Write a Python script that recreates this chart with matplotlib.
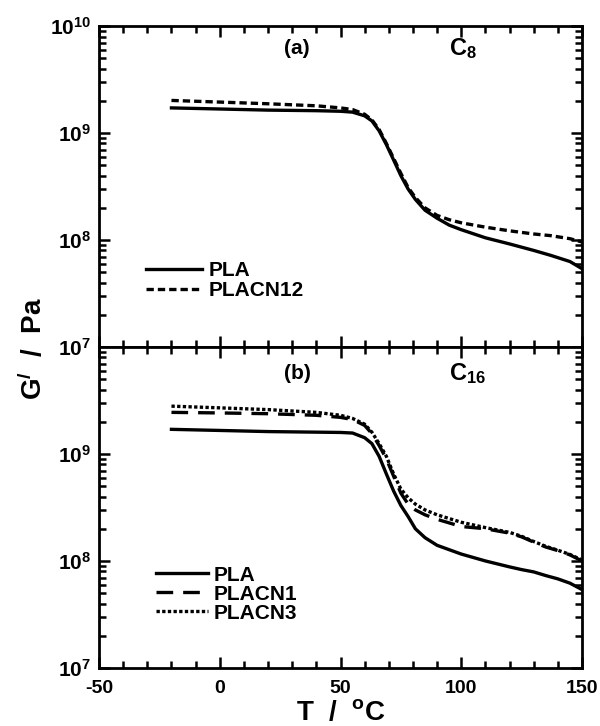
import matplotlib
matplotlib.use('Agg')
import math
import matplotlib.pyplot as plt
from matplotlib.ticker import LogLocator, MultipleLocator, FixedLocator, FuncFormatter, NullFormatter

plt.rcParams['font.family'] = ['Liberation Sans', 'DejaVu Sans']
plt.rcParams['font.weight'] = 'bold'
plt.rcParams['axes.unicode_minus'] = False
plt.rcParams['mathtext.fontset'] = 'custom'
plt.rcParams['mathtext.rm'] = 'Liberation Sans:bold'
plt.rcParams['mathtext.bf'] = 'Liberation Sans:bold'
plt.rcParams['mathtext.it'] = 'Liberation Sans:bold'

# ---- (a) C8 数据 ----
T_a = [-20, 0, 20, 40, 50, 55, 60, 63, 66, 69, 72, 75, 78, 81, 85, 90, 95, 100,
       110, 120, 130, 137, 145, 150]
pla_a = [1.72e9, 1.68e9, 1.64e9, 1.62e9, 1.60e9, 1.57e9, 1.45e9, 1.30e9, 1.05e9,
         7.8e8, 5.6e8, 4.0e8, 3.0e8, 2.4e8, 1.9e8, 1.6e8, 1.38e8, 1.25e8,
         1.05e8, 9.2e7, 8.0e7, 7.2e7, 6.3e7, 5.4e7]
placn12_a = [2.02e9, 1.95e9, 1.88e9, 1.80e9, 1.72e9, 1.66e9, 1.50e9, 1.33e9, 1.08e9,
             8.0e8, 5.8e8, 4.2e8, 3.1e8, 2.5e8, 2.0e8, 1.7e8, 1.55e8, 1.45e8,
             1.32e8, 1.22e8, 1.14e8, 1.10e8, 1.03e8, 9.6e7]

# ---- (b) C16 数据 ----
T_b = [-20, 0, 20, 40, 50, 55, 60, 63, 66, 69, 72, 75, 78, 81, 85, 90, 100,
       110, 120, 125, 130, 135, 140, 145, 150]
pla_b = [1.70e9, 1.66e9, 1.62e9, 1.60e9, 1.59e9, 1.57e9, 1.42e9, 1.25e9, 9.5e8,
         6.5e8, 4.5e8, 3.3e8, 2.6e8, 2.0e8, 1.65e8, 1.4e8, 1.16e8,
         1.0e8, 8.8e7, 8.3e7, 7.9e7, 7.3e7, 6.8e7, 6.2e7, 5.4e7]
placn1_b = [2.45e9, 2.42e9, 2.38e9, 2.30e9, 2.20e9, 2.10e9, 1.85e9, 1.55e9, 1.20e9,
            9.0e8, 6.2e8, 4.3e8, 3.4e8, 3.0e8, 2.7e8, 2.45e8, 2.1e8,
            2.0e8, 1.82e8, 1.68e8, 1.5e8, 1.35e8, 1.25e8, 1.14e8, 1.0e8]
placn3_b = [2.80e9, 2.70e9, 2.60e9, 2.45e9, 2.30e9, 2.15e9, 1.90e9, 1.60e9, 1.25e9,
            9.5e8, 6.5e8, 4.7e8, 3.9e8, 3.4e8, 3.0e8, 2.7e8, 2.3e8,
            2.05e8, 1.85e8, 1.7e8, 1.52e8, 1.37e8, 1.26e8, 1.15e8, 1.02e8]

fig, (ax1, ax2) = plt.subplots(2, 1, figsize=(6, 7.26), dpi=100, sharex=True)
fig.subplots_adjust(left=0.165, right=0.97, top=0.964, bottom=0.08, hspace=0)

lw = 2.4
ax1.plot(T_a, pla_a, color='black', lw=lw, ls='-', label='PLA')
ax1.plot(T_a, placn12_a, color='black', lw=lw, ls=(0, (2.2, 1.2)), label='PLACN12')

ax2.plot(T_b, pla_b, color='black', lw=lw, ls='-', label='PLA')
ax2.plot(T_b, placn1_b, color='black', lw=lw, ls=(0, (5, 3)), label='PLACN1')
ax2.plot(T_b, placn3_b, color='black', lw=lw, ls=(0, (1, 0.7)), label='PLACN3')


def sci(v, pos):
    e = int(round(math.log10(v)))
    return r'$\mathbf{10^{%d}}$' % e


for ax in (ax1, ax2):
    ax.set_yscale('log')
    ax.set_ylim(1e7, 1e10)
    ax.set_xlim(-50, 150)
    ax.xaxis.set_major_locator(MultipleLocator(50))
    ax.xaxis.set_minor_locator(MultipleLocator(10))
    ax.yaxis.set_major_locator(LogLocator(base=10, numticks=10))
    ax.yaxis.set_minor_locator(LogLocator(base=10, subs=range(2, 10), numticks=20))
    ax.yaxis.set_minor_formatter(NullFormatter())
    ax.yaxis.set_major_formatter(FuncFormatter(sci))
    ax.tick_params(which='both', direction='in', top=True, right=True, width=1.8)
    ax.tick_params(which='major', length=8)
    ax.tick_params(which='minor', length=5)
    ax.tick_params(axis='y', labelsize=15, pad=6)
    ax.tick_params(axis='x', labelsize=14, pad=9)
    for s in ax.spines.values():
        s.set_linewidth(2)

ax2.yaxis.set_major_locator(FixedLocator([1e7, 1e8, 1e9]))
for lab in ax2.get_xticklabels():
    lab.set_fontweight('bold')

ax1.text(32, 6.2e9, '(a)', fontsize=15, fontweight='bold', ha='center', va='center')
ax1.text(95, 6.2e9, r'C$_{\mathbf{8}}$', fontsize=17, fontweight='bold', ha='left', va='center')
ax2.text(32, 5.6e9, '(b)', fontsize=15, fontweight='bold', ha='center', va='center')
ax2.text(95, 5.6e9, r'C$_{\mathbf{16}}$', fontsize=17, fontweight='bold', ha='left', va='center')

ax1.legend(loc='lower left', bbox_to_anchor=(0.08, 0.12), frameon=False,
           prop={'weight': 'bold', 'size': 15}, handlelength=2.7, handletextpad=0.3,
           labelspacing=0.05, borderaxespad=0)
ax2.legend(loc='lower left', bbox_to_anchor=(0.1, 0.115), frameon=False,
           prop={'weight': 'bold', 'size': 15}, handlelength=2.5, handletextpad=0.3,
           labelspacing=0.0, borderaxespad=0)

ax2.set_xlabel(r'T  /  $^{\mathbf{o}}$C', fontsize=20, fontweight='bold', labelpad=2)
fig.text(0.055, 0.52, r"G$^{\mathbf{/}}$  /  Pa", rotation=90, fontsize=20,
         fontweight='bold', ha='center', va='center')

plt.savefig('out.png', dpi=100)
